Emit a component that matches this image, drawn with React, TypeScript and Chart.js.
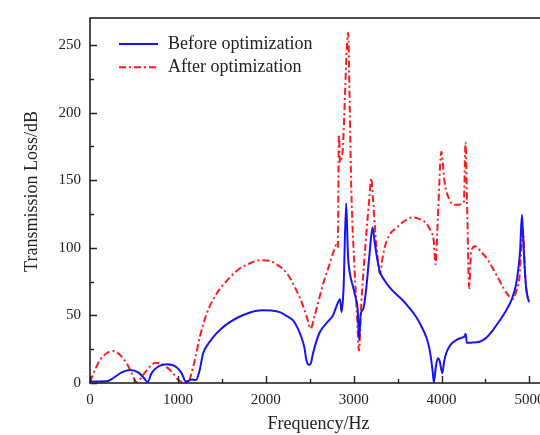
import React, { useEffect, useRef } from "react";
import { Chart, registerables } from "chart.js";

Chart.register(...registerables);

// Transmission loss (dB) against frequency (Hz), before and after optimization
const beforeFreq = [
  0, 100, 190, 265, 360, 455, 549, 614, 656, 701, 777, 879, 985, 1042, 1091, 1120, 1155, 1205,
  1242, 1288, 1340, 1402, 1490, 1591, 1700, 1781, 1880, 1970, 2060, 2159, 2240, 2311, 2360, 2405,
  2440, 2462, 2492, 2515, 2538, 2610, 2700, 2765, 2800, 2845, 2862, 2885, 2915, 2935, 2960, 2990,
  3023, 3045, 3063, 3078, 3110, 3140, 3180, 3215, 3240, 3260, 3295, 3350, 3409, 3480, 3561, 3640,
  3712, 3770, 3826, 3860, 3883, 3900, 3913, 3935, 3958, 3980, 4008, 4030, 4053, 4100, 4167, 4230,
  4261, 4275, 4288, 4330, 4432, 4500, 4583, 4660, 4735, 4800, 4848, 4875, 4894, 4915, 4936, 4962,
  4995,
];
const beforeTL = [
  1.2, 1.2, 1.3, 3.7, 7.8, 9.7, 7.8, 3.7, 0.7, 7.3, 12.2, 13.9, 11.7, 7.3, 1.2, 1.5, 2.6, 2.2,
  8, 22, 28.5, 34, 40, 45, 49, 51.2, 53.2, 53.8, 53.6, 52.4, 49.5, 46.3, 41, 34,
  26, 17, 13.4, 15, 22, 37, 45, 50, 56, 62, 52.5, 70, 133, 95, 80, 72,
  63, 55, 32, 50, 55, 68, 95, 115, 104, 95, 83, 76, 70.7, 66, 61, 55,
  48.8, 42, 34, 26, 17, 8, 0.5, 12, 18.3, 16, 7.3, 16, 22, 28, 31.7, 33.5,
  34.5, 36.5, 29.7, 29.8, 30.5, 33, 39, 46, 53.7, 62, 73, 85, 98, 124.5, 97.6, 70.7,
  59.7,
];

const afterFreq = [
  0, 57, 114, 189, 265, 341, 417, 474, 530, 606, 682, 750, 833, 928, 1004, 1061, 1117, 1150,
  1193, 1250, 1326, 1439, 1591, 1700, 1781, 1870, 1951, 2040, 2121, 2200, 2273, 2330, 2386, 2430,
  2462, 2511, 2557, 2614, 2670, 2727, 2770, 2803, 2820, 2832, 2845, 2860, 2875, 2938, 2955, 2973,
  3011, 3038, 3060, 3087, 3144, 3180, 3200, 3220, 3250, 3277, 3298, 3330, 3352, 3412, 3485, 3560,
  3674, 3760, 3826, 3880, 3910, 3932, 3958, 3998, 4034, 4091, 4167, 4254, 4273, 4290, 4315, 4337,
  4386, 4450, 4508, 4621, 4735, 4811, 4860, 4886, 4924, 4955, 4985,
];
const afterTL = [
  0.7, 9.7, 17, 22, 23.6, 20.7, 14.6, 7.3, 0.7, 6.1, 12.2, 15, 13.4, 8.5, 2.4, 0.5, 1, 6,
  17, 34, 51, 65.9, 78, 84.5, 87.3, 90, 90.8, 90.5, 87.8, 84, 78, 71, 63.4, 56,
  50, 40.3, 50, 64, 77, 88, 97, 102, 100, 184, 163, 166, 172, 259, 205, 144,
  83, 51, 24, 58.6, 110, 138, 151.5, 136, 108, 90, 81, 93, 100, 110, 114.6, 119,
  122.5, 121, 118, 112, 106, 87.8, 122, 171, 148.8, 135.4, 131.8, 134, 178, 134, 70, 97.6,
  101.2, 97, 92.7, 80.5, 67, 62.2, 70, 78, 112.2, 75.6, 61,
];

const seriesNames = ["Before optimization", "After optimization"];
const xTickValues = [0, 1000, 2000, 3000, 4000, 5000];
const yTickValues = [0, 50, 100, 150, 200, 250];
const xTitle = "Frequency/Hz";
const yTitle = "Transmission Loss/dB";

const SERIF = "'Liberation Serif', 'Times New Roman', Times, serif";
const INK = "#222";

// Closed frame round the plot with short inward tick marks (major + minor)
const framePlugin = {
  id: "frameTicks",
  afterDatasetsDraw(chart: any) {
    const { ctx, chartArea: a, scales } = chart;
    const xs = scales.x;
    const ys = scales.y;
    ctx.save();
    ctx.strokeStyle = INK;
    ctx.lineWidth = 1.6;
    ctx.strokeRect(a.left, a.top, a.right - a.left, a.bottom - a.top);
    ctx.lineWidth = 1.4;
    ctx.beginPath();
    for (let v = 0; v <= xs.max; v += 500) {
      const px = Math.round(xs.getPixelForValue(v)) + 0.5;
      const len = v % 1000 === 0 ? 7 : 4;
      ctx.moveTo(px, a.bottom);
      ctx.lineTo(px, a.bottom - len);
    }
    for (let v = 0; v <= ys.max; v += 25) {
      const py = Math.round(ys.getPixelForValue(v)) + 0.5;
      const len = v % 50 === 0 ? 7 : 4;
      ctx.moveTo(a.left, py);
      ctx.lineTo(a.left + len, py);
    }
    ctx.stroke();
    ctx.restore();
  },
};

// Vertical axis title, set a little above the middle of the axis
const yTitlePlugin = {
  id: "yTitle",
  afterDraw(chart: any) {
    const { ctx, chartArea: a } = chart;
    ctx.save();
    ctx.translate(32, (a.top + a.bottom) / 2 - 9);
    ctx.rotate(-Math.PI / 2);
    ctx.fillStyle = INK;
    ctx.font = `18px ${SERIF}`;
    ctx.textAlign = "center";
    ctx.textBaseline = "middle";
    ctx.fillText(yTitle, 0, 0);
    ctx.restore();
  },
};

// Legend inset at the top-left of the plot area
const legendPlugin = {
  id: "insetLegend",
  afterDraw(chart: any) {
    const { ctx, chartArea: a } = chart;
    chart.data.datasets.forEach((ds: any, i: number) => {
      const yy = a.top + 26 + i * 23.3;
      ctx.save();
      ctx.strokeStyle = ds.borderColor;
      ctx.lineWidth = ds.borderWidth;
      ctx.setLineDash(ds.borderDash || []);
      ctx.beginPath();
      ctx.moveTo(a.left + 29, yy);
      ctx.lineTo(a.left + 68, yy);
      ctx.stroke();
      ctx.setLineDash([]);
      ctx.fillStyle = INK;
      ctx.font = `18px ${SERIF}`;
      ctx.textBaseline = "middle";
      ctx.textAlign = "left";
      ctx.fillText(ds.label, a.left + 78, yy);
      ctx.restore();
    });
  },
};

export default function App() {
  const canvasRef = useRef<HTMLCanvasElement | null>(null);

  useEffect(() => {
    if (!canvasRef.current) return;
    const tickFont = { family: SERIF, size: 15 };
    const titleFont = { family: SERIF, size: 18 };
    const chart = new Chart(canvasRef.current, {
      type: "line",
      data: {
        datasets: [
          {
            label: seriesNames[0],
            data: beforeFreq.map((f, i) => ({ x: f, y: beforeTL[i] })),
            borderColor: "#1414f5",
            borderWidth: 2,
            pointRadius: 0,
            cubicInterpolationMode: "monotone",
          },
          {
            label: seriesNames[1],
            data: afterFreq.map((f, i) => ({ x: f, y: afterTL[i] })),
            borderColor: "#ff1a1a",
            borderWidth: 2,
            borderDash: [7, 3, 2, 3],
            pointRadius: 0,
            cubicInterpolationMode: "monotone",
          },
        ],
      },
      options: {
        animation: false,
        responsive: false,
        layout: { padding: { left: 0, top: 15, right: 13, bottom: 0 } },
        plugins: { legend: { display: false }, tooltip: { enabled: false } },
        scales: {
          x: {
            type: "linear",
            min: 0,
            max: 5200,
            grid: { display: false, drawTicks: false },
            border: { display: false },
            afterBuildTicks: (s: any) => {
              s.ticks = xTickValues.map((v) => ({ value: v }));
            },
            afterFit: (s: any) => {
              s.height = 52;
            },
            ticks: {
              padding: 8,
              color: INK,
              font: tickFont,
              maxRotation: 0,
              autoSkip: false,
              callback: (v: any) => String(v),
            },
            title: {
              display: true,
              text: xTitle,
              color: INK,
              font: titleFont,
              padding: { top: 0, bottom: 0 },
            },
          },
          y: {
            type: "linear",
            min: 0,
            max: 270,
            grid: { display: false, drawTicks: false },
            border: { display: false },
            afterBuildTicks: (s: any) => {
              s.ticks = yTickValues.map((v) => ({ value: v }));
            },
            afterFit: (s: any) => {
              s.width = 90;
            },
            ticks: {
              padding: 9,
              color: INK,
              font: tickFont,
              autoSkip: false,
              callback: (v: any) => String(v),
            },
            title: { display: false },
          },
        },
      },
      plugins: [framePlugin, yTitlePlugin, legendPlugin],
    });
    return () => chart.destroy();
  }, []);

  return (
    <div
      style={{
        position: "fixed",
        left: 0,
        top: 0,
        width: 540,
        height: 435,
        overflow: "hidden",
        background: "#fff",
      }}
    >
      <canvas ref={canvasRef} width={560} height={435} style={{ display: "block" }} />
    </div>
  );
}
